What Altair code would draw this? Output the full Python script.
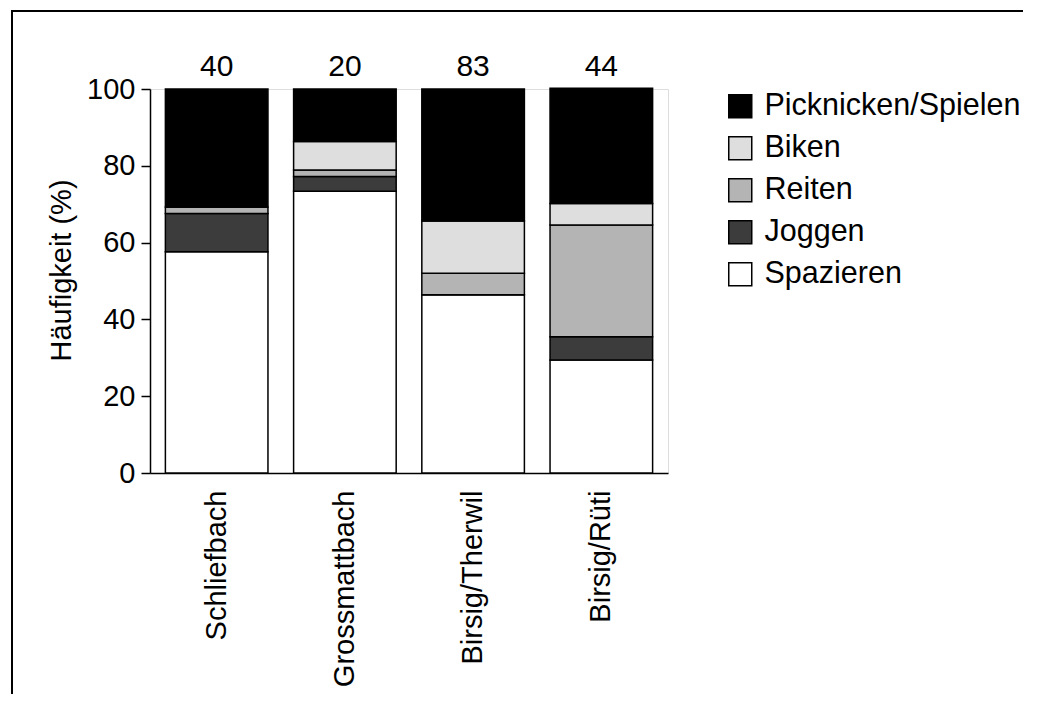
import altair as alt
import pandas as pd

sites = ["Schliefbach", "Grossmattbach", "Birsig/Therwil", "Birsig/Rüti"]
n_counts = [40, 20, 83, 44]
activities = ["Picknicken/Spielen", "Biken", "Reiten", "Joggen", "Spazieren"]
spazieren = [57.6, 73.4, 46.4, 29.4]
joggen = [10.0, 3.8, 0.0, 6.1]
reiten = [1.7, 1.7, 5.6, 29.1]
biken = [0.0, 7.4, 13.6, 5.6]
picknicken = [30.7, 13.7, 34.4, 30.0]
fills = ["#000000", "#dedede", "#b4b4b4", "#3c3c3c", "#ffffff"]

series = {
    "Spazieren": spazieren,
    "Joggen": joggen,
    "Reiten": reiten,
    "Biken": biken,
    "Picknicken/Spielen": picknicken,
}
stack_rank = {"Spazieren": 0, "Joggen": 1, "Reiten": 2, "Biken": 3, "Picknicken/Spielen": 4}

rows = []
for act, vals in series.items():
    for s, v in zip(sites, vals):
        rows.append({"site": s, "activity": act, "value": v, "rank": stack_rank[act]})
df = pd.DataFrame(rows)
df_n = pd.DataFrame({"site": sites, "n": n_counts})
df_frame = pd.DataFrame({"k": [0]})

W, H = 518, 384
PAD = {"left": 142, "top": 81, "right": 355, "bottom": 221}
FONT = "Liberation Sans"

x_enc = alt.X(
    "site:N",
    sort=sites,
    scale=alt.Scale(paddingInner=0.2, paddingOuter=0.12),
    axis=alt.Axis(
        title=None, labelAngle=270, labelAlign="right", labelBaseline="middle",
        labelFontSize=29, labelPadding=17, ticks=False, domainColor="black",
        domainWidth=1.5, labelColor="black", labelFont=FONT, labelLimit=400,
    ),
)

bars = alt.Chart(df).mark_bar(stroke="black", strokeWidth=1.5).encode(
    x=x_enc,
    y=alt.Y(
        "value:Q", stack="zero",
        scale=alt.Scale(domain=[0, 100], nice=False),
        axis=alt.Axis(
            title="Häufigkeit (%)", values=[0, 20, 40, 60, 80, 100], grid=False,
            labelFontSize=29, titleFontSize=29, titleFontWeight="normal",
            tickSize=9, tickColor="black", tickWidth=1.5, domainColor="black",
            domainWidth=1.5, labelPadding=6, titlePadding=10, titleY=181,
            labelColor="black", titleColor="black", labelFont=FONT, titleFont=FONT,
        ),
    ),
    fill=alt.Fill(
        "activity:N",
        scale=alt.Scale(domain=activities, range=fills),
        legend=alt.Legend(
            title=None, orient="none", legendX=575, legendY=2,
            symbolType="square", symbolSize=529, symbolStrokeColor="black",
            symbolStrokeWidth=1.5, labelFontSize=30.5, labelFont=FONT,
            labelColor="black", labelOffset=9, rowPadding=11,
            labelLimit=400, symbolOpacity=1,
        ),
    ),
    order=alt.Order("rank:Q", sort="ascending"),
)

labels = alt.Chart(df_n).mark_text(
    fontSize=30, baseline="alphabetic", font=FONT, color="black"
).encode(
    x=alt.X("site:N", sort=sites),
    y=alt.value(-13),
    text="n:Q",
)

frame = alt.Chart(df_frame).mark_rect(
    fill="white", fillOpacity=0, stroke="black", strokeWidth=2
).encode(
    x=alt.value(-138), x2=alt.value(W + PAD["right"] + 20),
    y=alt.value(-78), y2=alt.value(H + PAD["bottom"] + 20),
)

chart = alt.layer(frame, bars, labels).properties(
    width=W, height=H,
    autosize=alt.AutoSizeParams(type="none"),
    padding=PAD,
).configure_view(stroke=None).configure(background="white")

chart.save("out.html", embed_options={"renderer": "svg", "actions": False})
